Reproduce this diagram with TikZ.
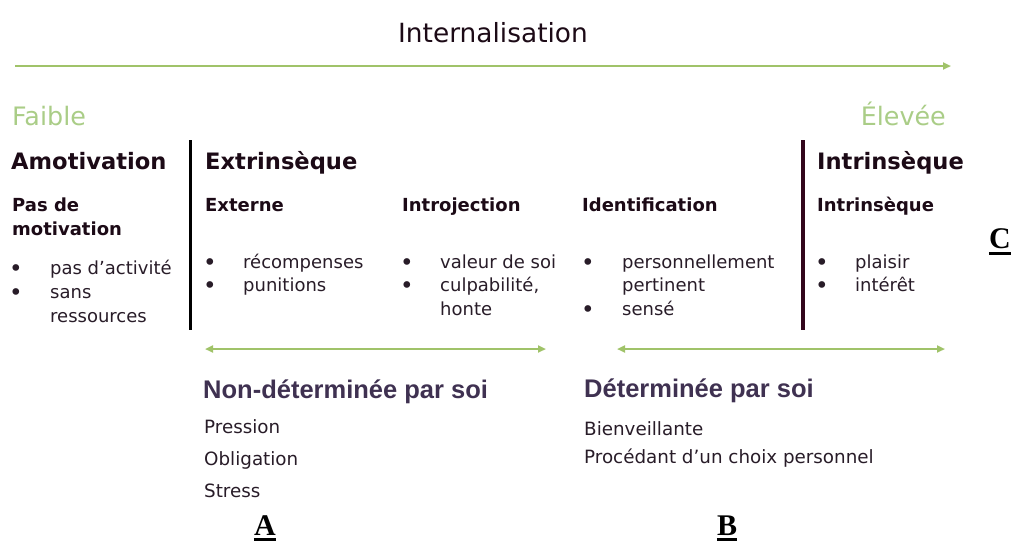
\documentclass[tikz,border=0pt]{standalone}
\usepackage{fontspec}
\setmainfont{DejaVu Sans}
\newfontfamily\arialf{Liberation Sans}
\newfontfamily\timesf{Liberation Serif}
\usetikzlibrary{arrows.meta}
\definecolor{lgreen}{RGB}{160,195,105}
\definecolor{fgreen}{RGB}{170,205,135}
\definecolor{ink}{RGB}{28,10,22}
\definecolor{barmaroon}{RGB}{50,6,28}
\definecolor{purp}{RGB}{63,49,81}
\definecolor{greyink}{RGB}{40,28,40}
\begin{document}
\begin{tikzpicture}[x=1pt,y=-1pt,
  txt/.style={inner sep=0pt, anchor=base west, text=ink},
  title/.style={txt, anchor=base, font=\fontsize{26.4}{30}\selectfont},
  scale label/.style={txt, text=fgreen, font=\fontsize{25.4}{29}\selectfont},
  big/.style={txt, font=\fontsize{22.6}{26}\selectfont\bfseries},
  sub/.style={txt, font=\fontsize{18}{22}\selectfont\bfseries},
  item/.style={txt, text=greyink, font=\fontsize{18}{22}\selectfont},
  dot/.style={txt, text=greyink, font=\fontsize{23}{26}\selectfont},
  groupname/.style={txt, text=purp, font=\arialf\fontsize{25.5}{30}\selectfont\bfseries},
  note/.style={txt, text=greyink, font=\fontsize{18.3}{22}\selectfont},
  letter/.style={inner sep=0pt, anchor=base, text=black, font=\timesf\fontsize{30}{34}\selectfont\bfseries},
  uline/.style={draw=black, line width=3pt},
  greenline/.style={draw=lgreen, line width=2.6pt},
  tip/.style={-{Triangle[length=8pt,width=7pt]}},
  bitip/.style={{Triangle[length=8pt,width=7pt]}-{Triangle[length=8pt,width=7pt]}}
]
\useasboundingbox (0,0) rectangle (1013,542);

% Top axis
\node[title] (intern) at (493,42) {Internalisation};
\coordinate (axL) at (15,66);
\coordinate (axR) at (951,66);
\draw[greenline, tip] (axL) -- (axR);
\node[scale label] (faible) at (12,125) {Faible};
\node[scale label, anchor=base east] (elevee) at (946,125) {Élevée};

% Main categories
\node[big] (amot) at (11,169) {Amotivation};
\node[big] (extr) at (205,169) {Extrinsèque};
\node[big] (intr) at (817,169) {Intrinsèque};

% Separator bars
\coordinate (b1t) at (190,140); \coordinate (b1b) at (190,330);
\coordinate (b2t) at (803,140); \coordinate (b2b) at (803,330);
\draw[line width=3pt, draw=black] (b1t) -- (b1b);
\draw[line width=4pt, draw=barmaroon] (b2t) -- (b2b);

% Sub headings
\node[sub] (pasde) at (12,211) {Pas de};
\node[sub] (motiv) at (12,235) {motivation};
\node[sub] (ext) at (205,211) {Externe};
\node[sub] (intro) at (402,211) {Introjection};
\node[sub] (ident) at (582,211) {Identification};
\node[sub] (intr2) at (817,211) {Intrinsèque};

% Column 1
\node[dot] (d11) at (9,276) {•};
\node[item] (t11) at (50,274) {pas d’activité};
\node[dot] (d12) at (9,300) {•};
\node[item] (t12) at (50,298) {sans};
\node[item] (t13) at (50,322) {ressources};
% Column 2
\node[dot] (d21) at (203,270) {•};
\node[item] (t21) at (243,268) {récompenses};
\node[dot] (d22) at (203,293) {•};
\node[item] (t22) at (243,291) {punitions};
% Column 3
\node[dot] (d31) at (400,270) {•};
\node[item] (t31) at (440,268) {valeur de soi};
\node[dot] (d32) at (400,293) {•};
\node[item] (t32) at (440,291) {culpabilité,};
\node[item] (t33) at (440,315) {honte};
% Column 4
\node[dot] (d41) at (581,270) {•};
\node[item] (t41) at (622,268) {personnellement};
\node[item] (t42) at (622,291) {pertinent};
\node[dot] (d43) at (581,317) {•};
\node[item] (t43) at (622,315) {sensé};
% Column 5
\node[dot] (d51) at (815,270) {•};
\node[item] (t51) at (855,268) {plaisir};
\node[dot] (d52) at (815,293) {•};
\node[item] (t52) at (855,291) {intérêt};

% Double arrows
\coordinate (a1L) at (205,349); \coordinate (a1R) at (546,349);
\coordinate (a2L) at (617,349); \coordinate (a2R) at (945,349);
\draw[greenline, line width=2.2pt, bitip] (a1L) -- (a1R);
\draw[greenline, line width=2.2pt, bitip] (a2L) -- (a2R);

% Group names
\node[groupname] (nondet) at (203,398) {Non-déterminée par soi};
\node[groupname] (det) at (584,397) {Déterminée par soi};

\node[note] (pres) at (204,433) {Pression};
\node[note] (oblig) at (204,465) {Obligation};
\node[note] (stress) at (204,497) {Stress};
\node[note] (bien) at (584,435) {Bienveillante};
\node[note] (proc) at (584,463) {Procédant d’un choix personnel};

% Letters
\node[letter] (A) at (265,535) {A};
\node[letter] (B) at (727,535) {B};
\node[letter] (C) at (1000,248) {C};
\draw[uline] ([yshift=-4.5pt]A.south west) -- ([yshift=-4.5pt]A.south east);
\draw[uline] ([yshift=-4.5pt]B.south west) -- ([yshift=-4.5pt]B.south east);
\draw[uline] ([yshift=-5pt]C.south west) -- ([yshift=-5pt]C.south east);
\end{tikzpicture}
\end{document}
